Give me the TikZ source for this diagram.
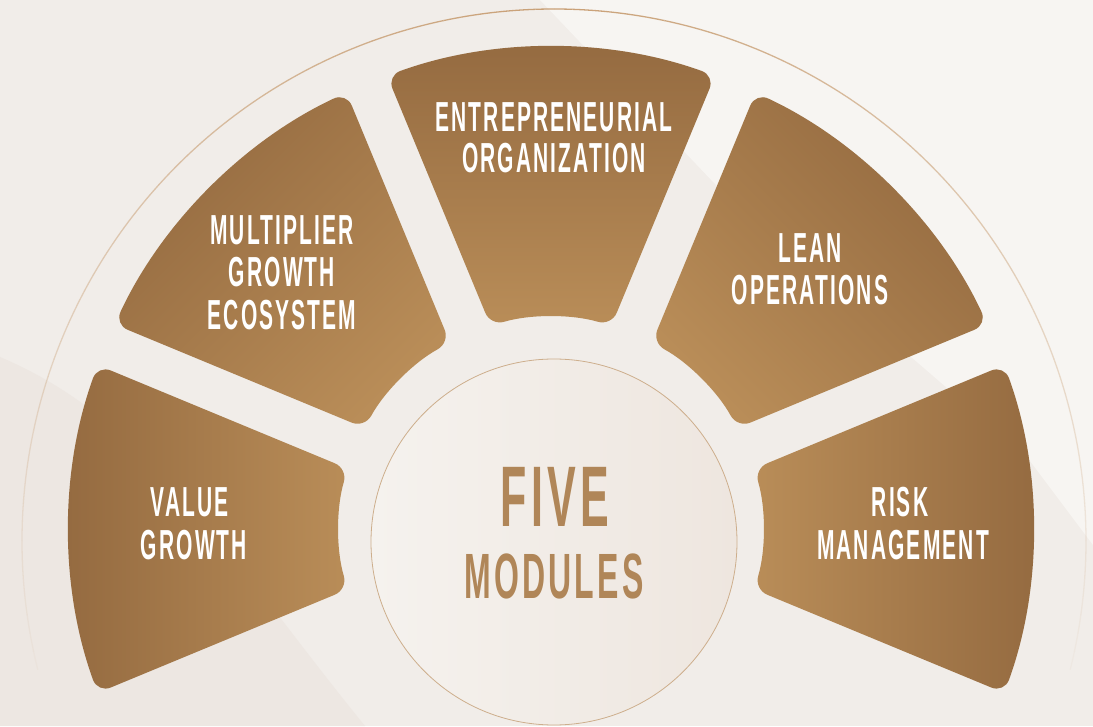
\documentclass[tikz,border=0pt]{standalone}
\usepackage{fontspec}
\usetikzlibrary{calc}
\newfontfamily\condfont[FakeStretch=0.5,LetterSpace=5]{Liberation Sans}
\definecolor{bgbase}{HTML}{F1EDE9}
\definecolor{bglight}{HTML}{F7F5F2}
\definecolor{bgdark}{HTML}{EDE7E2}
\definecolor{segdark}{HTML}{946A40}
\definecolor{seglight}{HTML}{B98D58}
\definecolor{hubtext}{HTML}{B08658}
\definecolor{ringline}{HTML}{C79C70}
\definecolor{hubline}{HTML}{CDAE8C}
\definecolor{hubleft}{HTML}{F5F2EE}
\definecolor{hubright}{HTML}{EEE6DF}
\begin{document}
\begin{tikzpicture}[x=1pt,y=1pt,
  lbl/.style={text=white, font=\condfont\bfseries\fontsize{42}{42}\selectfont, anchor=base, inner sep=0pt},
  hubtxt/.style={text=hubtext, anchor=base, inner sep=0pt},
  seg/.style={rounded corners=14pt, top color=segdark, bottom color=seglight}]
\useasboundingbox (0,0) rectangle (1093,726);
\fill[bgbase] (0,0) rectangle (1093,726);
\fill[bglight] (540,726) -- (1093,726) -- (1093,181) -- (1027,269) -- (735,521) -- cycle;
\fill[bgdark] (0,369) .. controls (150,306) and (230,166) .. (365,0) -- (0,0) -- cycle;
% outer ring
\coordinate (ringc) at (554,185);
\foreach \a in {0,2,...,102} {
  \pgfmathsetmacro\op{max(0, 0.95 - 0.0088*\a)}
  \draw[ringline, line width=1.3pt, opacity=\op] ($(ringc)+(90+\a:532)$) arc[start angle=90+\a, end angle=92+\a, radius=532];
  \draw[ringline, line width=1.3pt, opacity=\op] ($(ringc)+(90-\a:532)$) arc[start angle=90-\a, end angle=88-\a, radius=532];
}
% sectors
\coordinate (C) at (551,197);
\def\ri{212}\def\ro{482}\def\phin{16.54}\def\phout{19.88}
\foreach \t/\n in {180/vg, 135/mg, 90/eo, 45/lo, 0/rm} {
  \pgfmathsetmacro\sa{\t-90}
  \coordinate (\n-a) at ($(C)+(\t+\phin:\ri)$);
  \coordinate (\n-b) at ($(C)+(\t+\phout:\ro)$);
  \coordinate (\n-d) at ($(C)+(\t-\phin:\ri)$);
  \coordinate (\n-m) at ($(\n-a)!0.5!(\n-b)$);
  \shade[seg, shading angle=\sa] (\n-m) -- (\n-b) arc[start angle=\t+\phout, end angle=\t-\phout, radius=\ro] -- (\n-d) arc[start angle=\t-\phin, end angle=\t+\phin, radius=\ri] -- cycle;
}
% hub
\node[circle, minimum size=366pt, inner sep=0pt, draw=hubline, line width=0.8pt, left color=hubleft, right color=hubright] (hub) at (554,184) {};
\node[hubtxt, font=\condfont\bfseries\fontsize{86}{86}\selectfont] (five) at (555,199) {FIVE};
\node[hubtxt, font=\condfont\bfseries\fontsize{64}{64}\selectfont] (modules) at (554,127) {MODULES};
% labels
\node[lbl] (eo1) at (554,594) {ENTREPRENEURIAL};
\node[lbl] (eo2) at (554,553) {ORGANIZATION};
\node[lbl] (mg1) at (282,481) {MULTIPLIER};
\node[lbl] (mg2) at (282,439) {GROWTH};
\node[lbl] (mg3) at (282,396) {ECOSYSTEM};
\node[lbl] (lo1) at (810,463) {LEAN};
\node[lbl] (lo2) at (810,421) {OPERATIONS};
\node[lbl] (vg1) at (190,209) {VALUE};
\node[lbl] (vg2) at (194,166) {GROWTH};
\node[lbl] (rm1) at (900,209) {RISK};
\node[lbl] (rm2) at (903,166) {MANAGEMENT};
\end{tikzpicture}
\end{document}
